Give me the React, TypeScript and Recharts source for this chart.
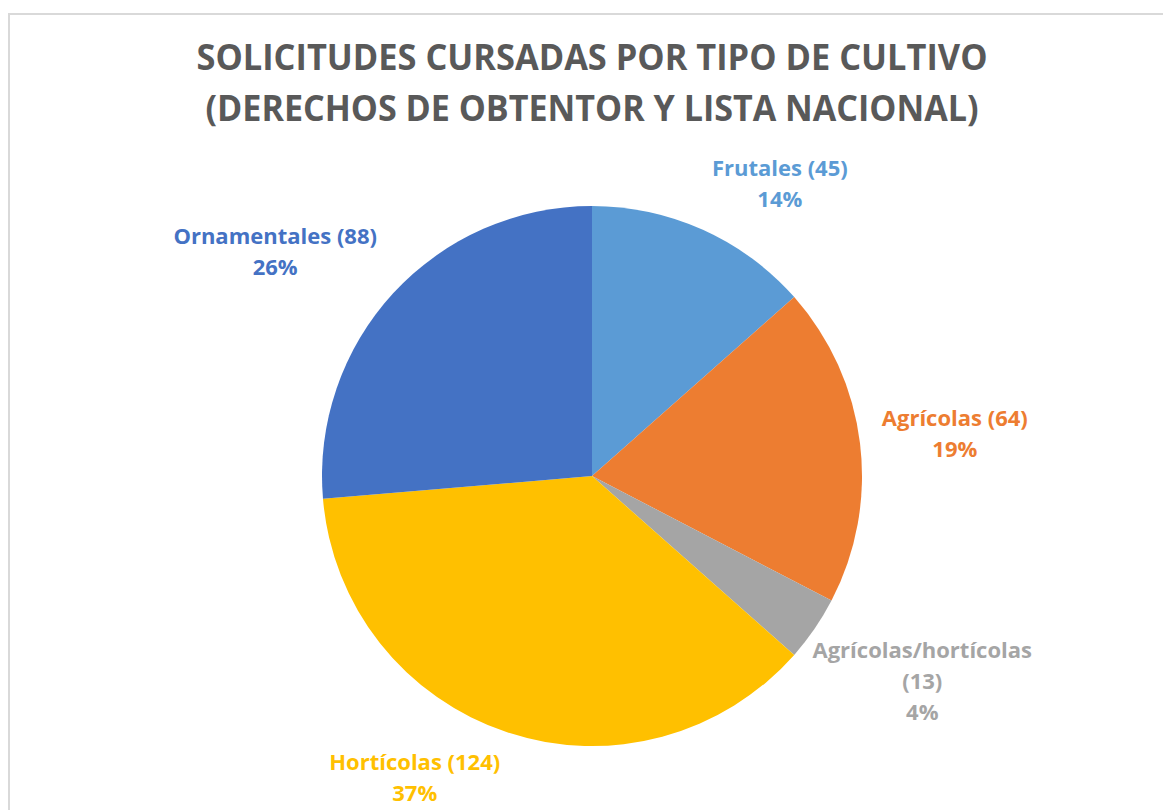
import { Cell, Pie, PieChart } from "recharts";

const categories = ["Frutales", "Agrícolas", "Agrícolas/hortícolas", "Hortícolas", "Ornamentales"];
const counts = [45, 64, 13, 124, 88];
const pctLabels = ["14%", "19%", "4%", "37%", "26%"];
const colors = ["#5B9BD5", "#ED7D31", "#A5A5A5", "#FFC000", "#4472C4"];
const titleLines = ["SOLICITUDES CURSADAS POR TIPO DE CULTIVO", "(DERECHOS DE OBTENTOR Y LISTA NACIONAL)"];

const data = categories.map((name, i) => ({
  name,
  value: counts[i],
  pct: pctLabels[i],
}));

const LABEL_FONT = "bold 22px 'Open Sans'";
const LINE_H = 31;
const ASC = 17; // box top -> first baseline
const DESC = 3; // last baseline -> box bottom
const WRAP_AT = 212; // wider "name (n)" lines break before the count
const LABEL_RIGHT = 1032; // labels are kept inside the chart area
const RAD = Math.PI / 180;

let ctx: CanvasRenderingContext2D | null = null;
function measure(text: string) {
  if (!ctx) ctx = document.createElement("canvas").getContext("2d");
  if (!ctx) return text.length * 11;
  ctx.font = LABEL_FONT;
  return ctx.measureText(text).width;
}

const clamp = (v: number) => Math.max(-1, Math.min(1, v));

/** Excel-style "outside end" label: box sits just off the rim, on the side facing away. */
function renderLabel(props: any) {
  const { cx, cy, midAngle, outerRadius, index } = props;
  const d = data[index];
  const first = `${d.name} (${d.value})`;
  const lines = measure(first) > WRAP_AT ? [d.name, `(${d.value})`, d.pct] : [first, d.pct];
  const w = Math.max(...lines.map(measure));
  const h = ASC + DESC + (lines.length - 1) * LINE_H;
  const ux = Math.cos(-midAngle * RAD);
  const uy = Math.sin(-midAngle * RAD);
  const r = outerRadius + 22;
  const px = cx + r * ux;
  const py = cy + r * uy;
  let bx = px + (w / 2) * clamp(ux * 3.5);
  const by = py + (h / 2) * clamp(uy * 2);
  if (bx + w / 2 > LABEL_RIGHT) bx = LABEL_RIGHT - w / 2;
  const top = by - h / 2;
  return (
    <text
      key={`lbl-${index}`}
      textAnchor="middle"
      fill={colors[index]}
      style={{ font: LABEL_FONT }}
    >
      {lines.map((t, i) => (
        <tspan key={i} x={bx} y={top + ASC + i * LINE_H}>
          {t}
        </tspan>
      ))}
    </text>
  );
}

export default function App() {
  return (
    <div
      style={{
        position: "absolute",
        left: 0,
        top: 0,
        width: 1163,
        height: 810,
        overflow: "hidden",
        background: "#fff",
        fontFamily: "'Open Sans', sans-serif",
      }}
    >
      <div
        style={{
          position: "absolute",
          left: 8,
          top: 13,
          width: 1400,
          height: 1000,
          borderLeft: "2px solid #D9D9D9",
          borderTop: "2px solid #D9D9D9",
          boxSizing: "border-box",
        }}
      />
      <svg width={1163} height={140} style={{ position: "absolute", left: 0, top: 0 }}>
        {titleLines.map((t, i) => (
          <text
            key={i}
            x={592}
            y={70 + i * 51}
            textAnchor="middle"
            fill="#595959"
            textLength={i === 0 ? 791 : 773}
            lengthAdjust="spacingAndGlyphs"
            style={{ font: "bold 36px 'Open Sans'" }}
          >
            {t}
          </text>
        ))}
      </svg>
      <div style={{ position: "absolute", left: 0, top: 0 }}>
        <PieChart width={1163} height={810} margin={{ top: 0, right: 0, bottom: 0, left: 0 }}>
          <Pie
            data={data}
            dataKey="value"
            nameKey="name"
            cx={592}
            cy={476}
            outerRadius={270}
            startAngle={90}
            endAngle={-270}
            stroke="none"
            labelLine={false}
            label={renderLabel}
            isAnimationActive={false}
          >
            {data.map((_, i) => (
              <Cell key={i} fill={colors[i]} />
            ))}
          </Pie>
        </PieChart>
      </div>
    </div>
  );
}
